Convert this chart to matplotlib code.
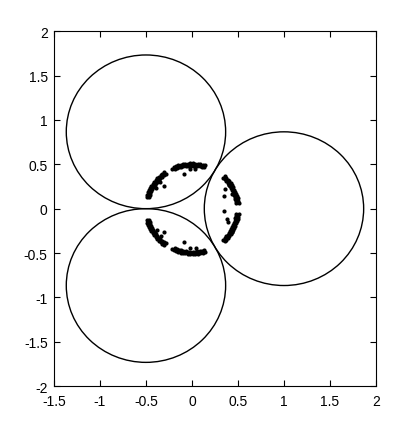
import matplotlib
matplotlib.use("Agg")
import matplotlib.pyplot as plt
from matplotlib.patches import Circle

plt.rcParams["font.family"] = ["Liberation Sans", "DejaVu Sans"]

# big circles (centre x, centre y, radius)
circ_x = [1.0, -0.5, -0.5]
circ_y = [0.0, 0.866, -0.866]
circ_r = [0.866, 0.866, 0.866]

# right upper arc
arc1_x = [0.506, 0.502, 0.497, 0.490, 0.482, 0.473, 0.462, 0.450, 0.437, 0.423, 0.407, 0.391, 0.373, 0.354,
          0.481, 0.478, 0.473, 0.466, 0.459, 0.450, 0.440, 0.428, 0.416, 0.402, 0.387, 0.372, 0.355, 0.337,
          0.359, 0.351, 0.440, 0.400]
arc1_y = [0.062, 0.089, 0.115, 0.141, 0.166, 0.191, 0.216, 0.239, 0.263, 0.285, 0.307, 0.328, 0.348, 0.367,
          0.059, 0.084, 0.109, 0.134, 0.158, 0.182, 0.205, 0.228, 0.250, 0.271, 0.292, 0.312, 0.331, 0.349,
          0.220, 0.144, 0.170, 0.270]

# top arc
arc2_x = [0.141, 0.115, 0.089, 0.062, 0.036, 0.009, -0.018, -0.044, -0.071, -0.097, -0.123, -0.149, -0.174, -0.199, -0.219,
          0.134, 0.109, 0.084, 0.059, 0.034, 0.008, -0.017, -0.042, -0.068, -0.093, -0.117, -0.142, -0.166, -0.189,
          -0.084, -0.022, 0.030]
arc2_y = [0.490, 0.497, 0.502, 0.506, 0.509, 0.510, 0.510, 0.508, 0.505, 0.501, 0.495, 0.488, 0.479, 0.469, 0.449,
          0.466, 0.473, 0.478, 0.481, 0.484, 0.485, 0.485, 0.483, 0.480, 0.476, 0.471, 0.464, 0.456, 0.446,
          0.389, 0.445, 0.450]

# left upper arc
arc3_x = [-0.300, -0.321, -0.341, -0.361, -0.379, -0.396, -0.413, -0.428, -0.442, -0.454, -0.466, -0.476, -0.485, -0.493,
          -0.285, -0.305, -0.325, -0.343, -0.360, -0.377, -0.392, -0.407, -0.420, -0.432, -0.443, -0.453, -0.461, -0.468,
          -0.301, -0.395, -0.350]
arc3_y = [0.413, 0.396, 0.379, 0.361, 0.341, 0.321, 0.300, 0.278, 0.255, 0.232, 0.207, 0.183, 0.158, 0.132,
          0.392, 0.377, 0.360, 0.343, 0.325, 0.305, 0.285, 0.264, 0.243, 0.220, 0.197, 0.174, 0.150, 0.126,
          0.250, 0.228, 0.300]

# left lower arc
arc4_x = [-0.300, -0.321, -0.341, -0.361, -0.379, -0.396, -0.413, -0.428, -0.442, -0.454, -0.466, -0.476, -0.485, -0.493,
          -0.285, -0.305, -0.325, -0.343, -0.360, -0.377, -0.392, -0.407, -0.420, -0.432, -0.443, -0.453, -0.461, -0.468,
          -0.301, -0.384, -0.340]
arc4_y = [-0.413, -0.396, -0.379, -0.361, -0.341, -0.321, -0.300, -0.278, -0.255, -0.232, -0.207, -0.183, -0.158, -0.132,
          -0.392, -0.377, -0.360, -0.343, -0.325, -0.305, -0.285, -0.264, -0.243, -0.220, -0.197, -0.174, -0.150, -0.126,
          -0.261, -0.239, -0.310]

# bottom arc
arc5_x = [0.141, 0.115, 0.089, 0.062, 0.036, 0.009, -0.018, -0.044, -0.071, -0.097, -0.123, -0.149, -0.174, -0.199, -0.219,
          0.134, 0.109, 0.084, 0.059, 0.034, 0.008, -0.017, -0.042, -0.068, -0.093, -0.117, -0.142, -0.166, -0.189,
          -0.084, -0.022, 0.040]
arc5_y = [-0.490, -0.497, -0.502, -0.506, -0.509, -0.510, -0.510, -0.508, -0.505, -0.501, -0.495, -0.488, -0.479, -0.469, -0.449,
          -0.466, -0.473, -0.478, -0.481, -0.484, -0.485, -0.485, -0.483, -0.480, -0.476, -0.471, -0.464, -0.456, -0.446,
          -0.381, -0.445, -0.440]

# right lower arc
arc6_x = [0.506, 0.502, 0.497, 0.490, 0.482, 0.473, 0.462, 0.450, 0.437, 0.423, 0.407, 0.391, 0.373, 0.354,
          0.481, 0.478, 0.473, 0.466, 0.459, 0.450, 0.440, 0.428, 0.416, 0.402, 0.387, 0.372, 0.355, 0.337,
          0.351, 0.377, 0.390, 0.430]
arc6_y = [-0.062, -0.089, -0.115, -0.141, -0.166, -0.191, -0.216, -0.239, -0.263, -0.285, -0.307, -0.328, -0.348, -0.367,
          -0.059, -0.084, -0.109, -0.134, -0.158, -0.182, -0.205, -0.228, -0.250, -0.271, -0.292, -0.312, -0.331, -0.349,
          -0.025, -0.118, -0.150, -0.260]

x_ticks = [-1.5, -1, -0.5, 0, 0.5, 1, 1.5, 2]
y_ticks = [-2, -1.5, -1, -0.5, 0, 0.5, 1, 1.5, 2]
x_labels = ["-1.5", "-1", "-0.5", "0", "0.5", "1", "1.5", "2"]
y_labels = ["-2", "-1.5", "-1", "-0.5", "0", "0.5", "1", "1.5", "2"]

fig = plt.figure(figsize=(4.15, 4.35), dpi=100)
ax = fig.add_axes([0.130, 0.110, 0.776, 0.816])

for cx, cy, r in zip(circ_x, circ_y, circ_r):
    ax.add_patch(Circle((cx, cy), r, fill=False, edgecolor="black", linewidth=1.0))

for xs, ys in [(arc1_x, arc1_y), (arc2_x, arc2_y), (arc3_x, arc3_y),
               (arc4_x, arc4_y), (arc5_x, arc5_y), (arc6_x, arc6_y)]:
    ax.plot(xs, ys, linestyle="none", marker="o", markersize=3.0,
            color="black", markeredgewidth=0)

ax.set_xlim(-1.5, 2)
ax.set_ylim(-2, 2)
ax.set_xticks(x_ticks)
ax.set_xticklabels(x_labels)
ax.set_yticks(y_ticks)
ax.set_yticklabels(y_labels)
ax.tick_params(direction="in", top=True, right=True, length=4, width=0.8, labelsize=10)
ax.tick_params(axis="x", pad=6)
ax.tick_params(axis="y", pad=4.5)
for sp in ax.spines.values():
    sp.set_linewidth(0.8)

fig.savefig("out.png", dpi=100)
